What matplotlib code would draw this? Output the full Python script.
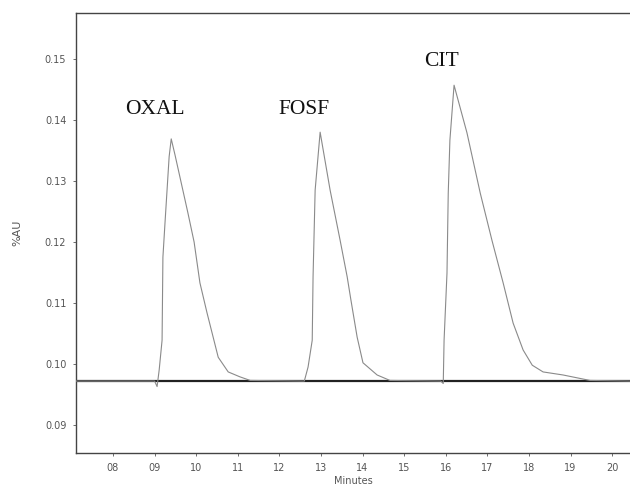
import matplotlib
matplotlib.use("Agg")
import matplotlib.pyplot as plt

# ---- data ----
time_min = [7.11, 9.00, 9.06, 9.11, 9.18, 9.20, 9.25, 9.35, 9.40, 9.49, 9.80, 9.95,
            10.09, 10.26, 10.53, 10.77, 11.05, 11.30, 12.60, 12.69, 12.79, 12.81,
            12.86, 12.98, 13.22, 13.46, 13.63, 13.72, 13.87, 14.01, 14.35, 14.66,
            15.88, 15.94, 15.96, 16.03, 16.06, 16.10, 16.20, 16.51, 16.83, 17.11,
            17.38, 17.62, 17.86, 18.08, 18.34, 18.82, 19.47, 20.43]
absorb_au = [0.0972, 0.0972, 0.0963, 0.0990, 0.1039, 0.1175, 0.1231, 0.1340, 0.1369,
             0.1343, 0.1248, 0.1200, 0.1133, 0.1084, 0.1011, 0.0987, 0.0979, 0.0973,
             0.0972, 0.0995, 0.1039, 0.1143, 0.1285, 0.1380, 0.1285, 0.1203, 0.1143,
             0.1105, 0.1044, 0.1002, 0.0982, 0.0973, 0.0972, 0.0968, 0.1039, 0.1149,
             0.1280, 0.1367, 0.1457, 0.1379, 0.1280, 0.1203, 0.1133, 0.1067, 0.1023,
             0.0998, 0.0987, 0.0982, 0.0973, 0.0972]

baseline_time = [7.11, 20.43]
baseline_au = [0.0972, 0.0972]

peak_names = ["OXAL", "FOSF", "CIT"]
peak_label_t = [9.0, 12.6, 15.9]
peak_label_y = [0.1417, 0.1417, 0.1496]

x_ticks = [8, 9, 10, 11, 12, 13, 14, 15, 16, 17, 18, 19, 20]
x_tick_labels = ["08", "09", "10", "11", "12", "13", "14", "15", "16", "17", "18", "19", "20"]
y_ticks = [0.09, 0.10, 0.11, 0.12, 0.13, 0.14, 0.15]
y_tick_labels = ["0.09", "0.10", "0.11", "0.12", "0.13", "0.14", "0.15"]

# ---- figure ----
fig = plt.figure(figsize=(6.3, 4.86), dpi=100)
ax = fig.add_axes([0.1206, 0.0679, 0.8794, 0.9054])

ax.plot(baseline_time, baseline_au, color="#222222", lw=1.6, zorder=2)
ax.plot(time_min, absorb_au, color="#8a8a8a", lw=0.8, zorder=3)

for name, t, y in zip(peak_names, peak_label_t, peak_label_y):
    ax.text(t, y, name, fontsize=15.5, family="Liberation Serif", color="#111111",
            ha="center", va="center")

ax.set_xlim(7.11, 20.43)
ax.set_ylim(0.08541, 0.15754)
ax.set_xticks(x_ticks)
ax.set_xticklabels(x_tick_labels)
ax.set_yticks(y_ticks)
ax.set_yticklabels(y_tick_labels)
ax.tick_params(axis="both", length=2, width=0.6, color="#555555",
               labelsize=7, labelcolor="#555555", pad=5)

for side in ["left", "top", "bottom"]:
    ax.spines[side].set_color("#444444")
    ax.spines[side].set_linewidth(1.0)
ax.spines["right"].set_visible(False)

ax.set_xlabel("Minutes", fontsize=7, color="#555555", labelpad=2)
ax.set_ylabel("%AU", fontsize=8, color="#555555", va="center")
ax.yaxis.set_label_coords(-0.105, 0.50)

fig.savefig("out.png", dpi=100)
